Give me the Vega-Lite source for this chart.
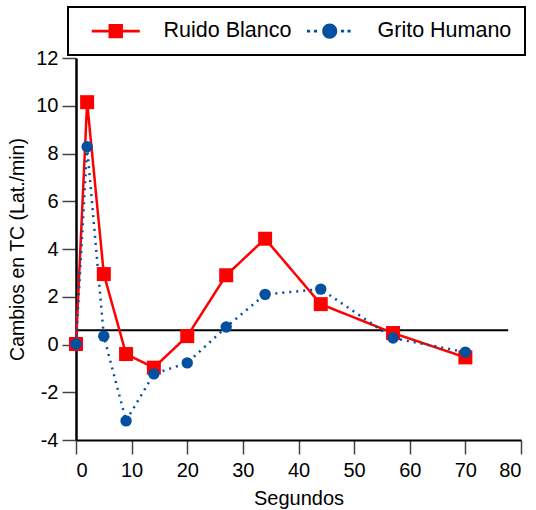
{
  "$schema": "https://vega.github.io/schema/vega-lite/v6.json",
  "width": 445,
  "height": 382,
  "autosize": "none",
  "padding": {"left": 76, "top": 58, "right": 15, "bottom": 70},
  "background": "white",
  "config": {
    "font": "Liberation Sans",
    "view": {"stroke": null},
    "axis": {
      "labelFont": "Liberation Sans",
      "labelFontSize": 20,
      "labelColor": "black",
      "titleFont": "Liberation Sans",
      "titleFontSize": 20,
      "titleFontWeight": "normal",
      "titleColor": "black",
      "domainColor": "black",
      "domainWidth": 2.5,
      "tickColor": "#444",
      "tickWidth": 1.5,
      "tickSize": 14,
      "grid": false
    }
  },
  "datasets": {
    "series": [
      {"serie": "Ruido Blanco", "t": 0, "v": 0.02},
      {"serie": "Ruido Blanco", "t": 2, "v": 10.15},
      {"serie": "Ruido Blanco", "t": 5, "v": 2.95},
      {"serie": "Ruido Blanco", "t": 9, "v": -0.4},
      {"serie": "Ruido Blanco", "t": 14, "v": -0.97},
      {"serie": "Ruido Blanco", "t": 20, "v": 0.35},
      {"serie": "Ruido Blanco", "t": 27, "v": 2.9},
      {"serie": "Ruido Blanco", "t": 34, "v": 4.43},
      {"serie": "Ruido Blanco", "t": 44, "v": 1.69},
      {"serie": "Ruido Blanco", "t": 57, "v": 0.48},
      {"serie": "Ruido Blanco", "t": 70, "v": -0.54},
      {"serie": "Grito Humano", "t": 0, "v": 0.02},
      {"serie": "Grito Humano", "t": 2, "v": 8.28},
      {"serie": "Grito Humano", "t": 5, "v": 0.35},
      {"serie": "Grito Humano", "t": 9, "v": -3.2},
      {"serie": "Grito Humano", "t": 14, "v": -1.23},
      {"serie": "Grito Humano", "t": 20, "v": -0.77},
      {"serie": "Grito Humano", "t": 27, "v": 0.73},
      {"serie": "Grito Humano", "t": 34, "v": 2.1},
      {"serie": "Grito Humano", "t": 44, "v": 2.32},
      {"serie": "Grito Humano", "t": 57, "v": 0.27},
      {"serie": "Grito Humano", "t": 70, "v": -0.32}
    ],
    "referencia": [
      {"desde": 0, "hasta": 77.7, "nivel": 0.6}
    ]
  },
  "encoding": {
    "x": {
      "field": "t",
      "type": "quantitative",
      "title": "Segundos",
      "scale": {"domain": [0, 80], "nice": false},
      "axis": {"values": [0, 10, 20, 30, 40, 50, 60, 70, 80], "labelPadding": 6, "titlePadding": 8, "domainWidth": 2}
    },
    "y": {
      "field": "v",
      "type": "quantitative",
      "title": "Cambios en TC (Lat./min)",
      "scale": {"domain": [-4, 12], "nice": false, "zero": false},
      "axis": {
        "values": [-4, -2, 0, 2, 4, 6, 8, 10, 12],
        "labelExpr": "toString(datum.value)",
        "labelPadding": 4,
        "titlePadding": 8,
        "titleFontSize": 19.5
      }
    }
  },
  "layer": [
    {
      "data": {"name": "referencia"},
      "mark": {"type": "rule", "color": "black", "strokeWidth": 2},
      "encoding": {
        "x": {"field": "desde", "type": "quantitative"},
        "x2": {"field": "hasta"},
        "y": {"field": "nivel", "type": "quantitative"}
      }
    },
    {
      "data": {"name": "series"},
      "mark": {"type": "line", "strokeWidth": 2.5},
      "encoding": {
        "color": {
          "field": "serie",
          "type": "nominal",
          "scale": {"domain": ["Ruido Blanco", "Grito Humano"], "range": ["#ff0000", "#0450a0"]},
          "legend": {
            "orient": "none",
            "legendX": -8,
            "legendY": -51,
            "direction": "horizontal",
            "title": null,
            "strokeColor": "black",
            "padding": 13,
            "symbolSize": 256,
            "symbolOffset": 8,
            "labelFont": "Liberation Sans",
            "labelFontSize": 21.5,
            "labelColor": "black",
            "labelOffset": 53,
            "columnPadding": 3,
            "encode": {
              "legend": {"update": {"strokeWidth": {"value": 2}}},
              "symbols": {
                "update": {
                  "shape": {"signal": "datum.value === 'Ruido Blanco' ? 'M-1,-0.16H5V0.16H-1Z M1.1,-0.9H2.9V0.9H1.1Z' : 'M-0.85,-0.16H-0.45V0.16H-0.85Z M0.02,-0.16H0.42V0.16H0.02Z M3.4,-0.16H3.8V0.16H3.4Z M4.21,-0.16H4.61V0.16H4.21Z M2.94,0A0.94,0.94 0 1 1 1.06,0A0.94,0.94 0 1 1 2.94,0Z'"},
                  "fill": {"signal": "datum.value === 'Ruido Blanco' ? '#ff0000' : '#0450a0'"},
                  "strokeWidth": {"value": 0},
                  "opacity": {"value": 1},
                  "fillOpacity": {"value": 1}
                }
              }
            }
          }
        },
        "strokeDash": {
          "field": "serie",
          "type": "nominal",
          "scale": {"domain": ["Ruido Blanco", "Grito Humano"], "range": [[1, 0], [2, 5]]},
          "legend": null
        }
      }
    },
    {
      "data": {"name": "series"},
      "transform": [{"filter": "datum.serie === 'Ruido Blanco'"}],
      "mark": {"type": "point", "shape": "square", "filled": true, "size": 196, "opacity": 1},
      "encoding": {
        "color": {"field": "serie", "type": "nominal"}
      }
    },
    {
      "data": {"name": "series"},
      "transform": [{"filter": "datum.serie === 'Grito Humano'"}],
      "mark": {"type": "point", "shape": "circle", "filled": true, "size": 130, "opacity": 1},
      "encoding": {
        "color": {"field": "serie", "type": "nominal"}
      }
    }
  ]
}
